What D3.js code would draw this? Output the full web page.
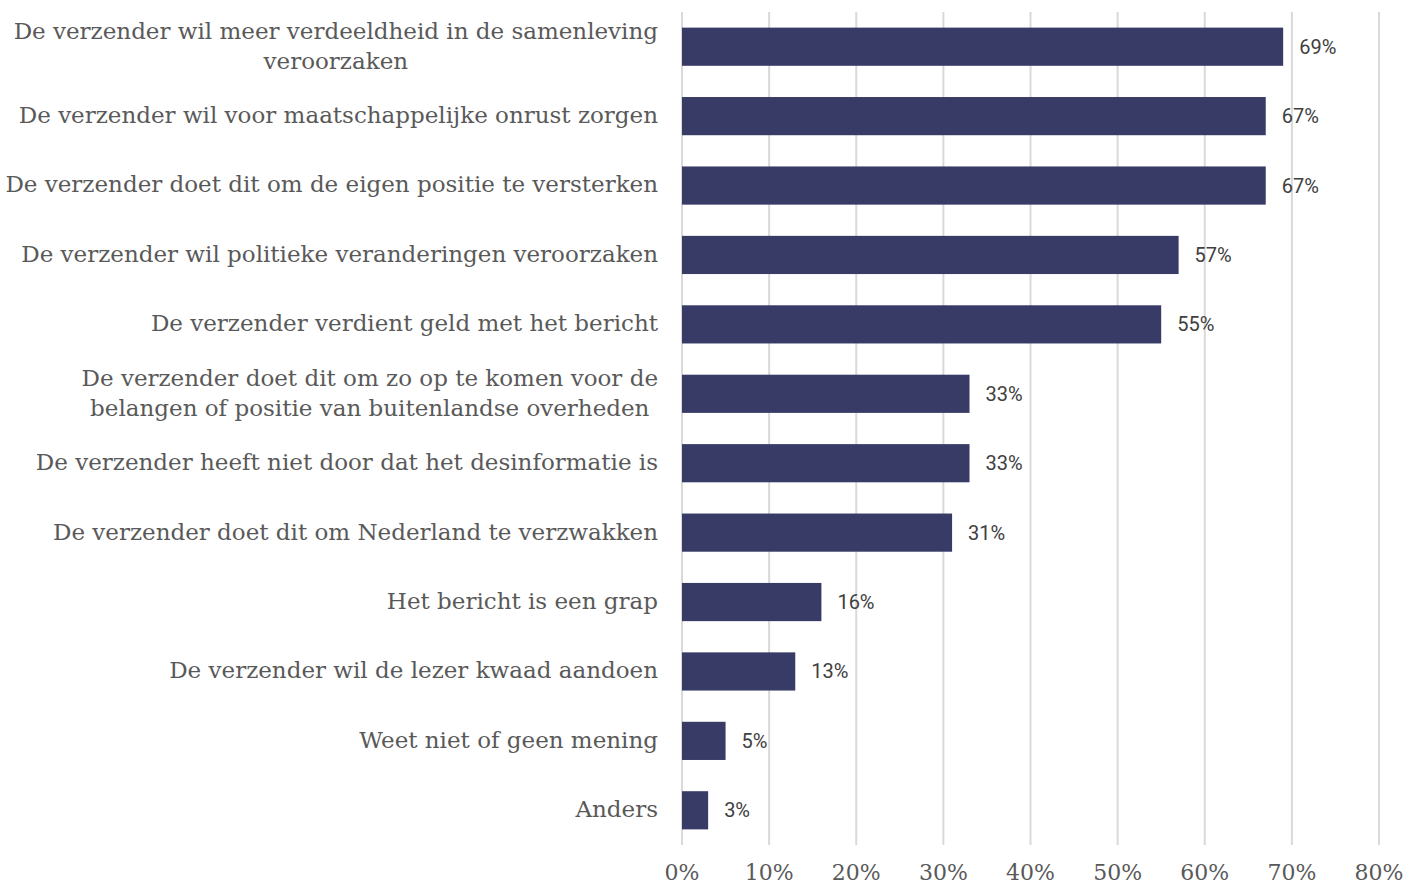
<!DOCTYPE html>
<html><head><meta charset="utf-8">
<script src="https://cdn.jsdelivr.net/npm/d3@7"></script>
<style>body{margin:0;background:#fff}</style>
</head><body><svg id="c" width="1409" height="887"></svg>
<script>
const categories = [
  ["De verzender wil meer verdeeldheid in de samenleving","veroorzaken"],
  ["De verzender wil voor maatschappelijke onrust zorgen"],
  ["De verzender doet dit om de eigen positie te versterken"],
  ["De verzender wil politieke veranderingen veroorzaken"],
  ["De verzender verdient geld met het bericht"],
  ["De verzender doet dit om zo op te komen voor de","belangen of positie van buitenlandse overheden"],
  ["De verzender heeft niet door dat het desinformatie is"],
  ["De verzender doet dit om Nederland te verzwakken"],
  ["Het bericht is een grap"],
  ["De verzender wil de lezer kwaad aandoen"],
  ["Weet niet of geen mening"],
  ["Anders"]
];
const values = [69, 67, 67, 57, 55, 33, 33, 31, 16, 13, 5, 3];
const ticks = [0, 10, 20, 30, 40, 50, 60, 70, 80];

const svg = d3.select("#c");
const x = d3.scaleLinear().domain([0, 80]).range([682, 1379]);
const y = d3.scaleBand().domain(d3.range(values.length)).range([12, 845]).paddingInner(0.45).paddingOuter(0.225);

// grid
svg.append("g").selectAll("line").data(ticks).join("line")
  .attr("x1", d => x(d)).attr("x2", d => x(d)).attr("y1", 12).attr("y2", 845)
  .attr("stroke", "#d9d9d9").attr("stroke-width", 2);

// bars
svg.append("g").selectAll("rect").data(values).join("rect")
  .attr("x", x(0)).attr("y", (d, i) => y(i)).attr("width", d => x(d) - x(0)).attr("height", y.bandwidth())
  .attr("fill", "#373b66");

// value labels
svg.append("g").selectAll("text").data(values).join("text")
  .attr("x", d => x(d) + 16).attr("y", (d, i) => y(i) + y.bandwidth() / 2)
  .attr("dy", "0.35em").attr("font-family", "Roboto, sans-serif").attr("font-size", 20)
  .attr("fill", "#404040").text(d => d + "%");

// category labels
const lg = svg.append("g").attr("font-family", "'DejaVu Serif', serif").attr("font-size", 23).attr("fill", "#595959");
categories.forEach((lines, i) => {
  const cy = y(i) + y.bandwidth() / 2;
  const lh = 30;
  const texts = lines.map((t, j) => lg.append("text")
    .attr("y", cy + (j - (lines.length - 1) / 2) * lh).attr("dy", "0.3em").text(t));
  const widths = texts.map(t => t.node().getComputedTextLength());
  const maxW = Math.max(...widths);
  texts.forEach((t, j) => t.attr("text-anchor", "middle").attr("x", 658 - maxW / 2));
});

// x axis tick labels
svg.append("g").selectAll("text").data(ticks).join("text")
  .attr("x", d => x(d)).attr("y", 872).attr("dy", "0.35em").attr("text-anchor", "middle")
  .attr("font-family", "'DejaVu Serif', serif").attr("font-size", 22).attr("fill", "#595959")
  .text(d => d + "%");
</script></body></html>
